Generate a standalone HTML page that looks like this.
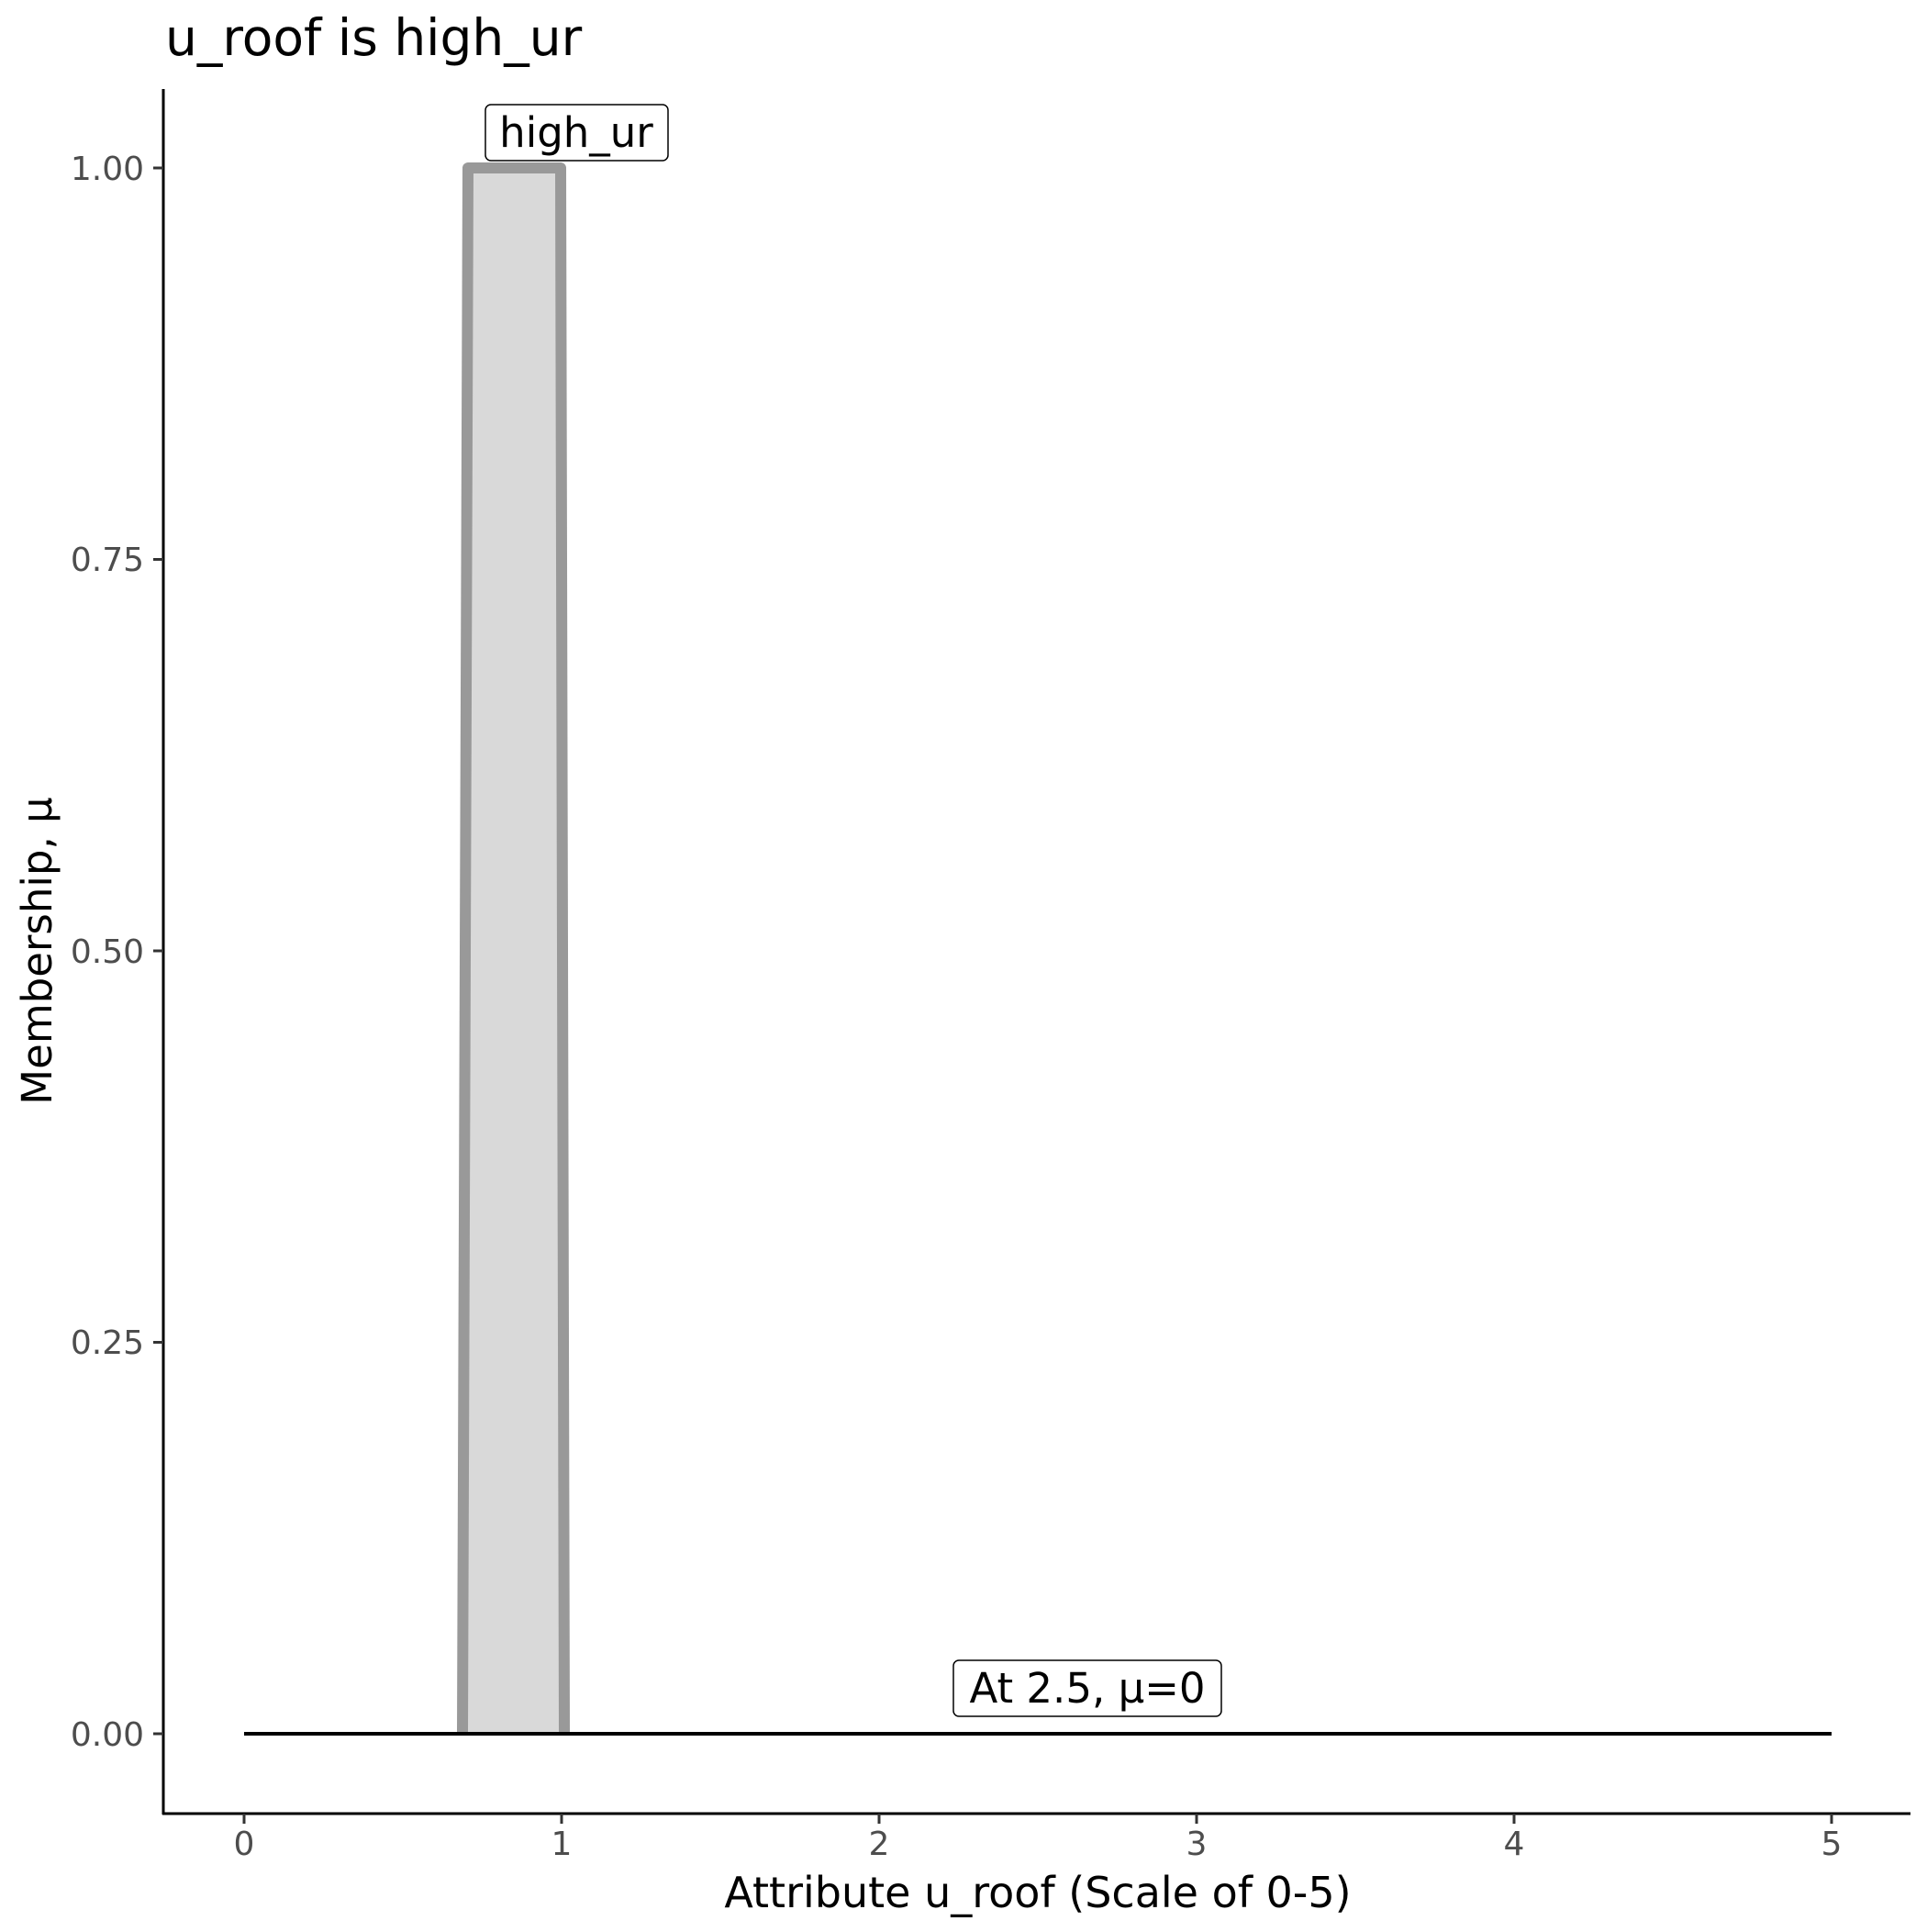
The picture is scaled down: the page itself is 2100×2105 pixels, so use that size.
<!DOCTYPE html>
<html><head><style>html,body{margin:0;padding:0;background:#fff}</style></head>
<body>
<svg width="2100" height="2100" viewBox="0 0 2100 2100" xmlns="http://www.w3.org/2000/svg" font-family="'DejaVu Sans','Liberation Sans',sans-serif">
<rect width="2100" height="2100" fill="#fff"/>
<text x="180" y="60" font-size="55" fill="#000">u_roof is high_ur</text>
<!-- trapezoid -->
<polygon points="504,1889 510,183 611,183 615,1889" fill="#d9d9d9"/>
<polyline points="504,1889 510,183 611,183 615,1889" fill="none" stroke="#999" stroke-width="12" stroke-linejoin="round"/>
<line x1="266" y1="1889" x2="1996" y2="1889" stroke="#000" stroke-width="4"/>
<!-- labels -->
<rect x="529" y="114" width="199" height="61" rx="6" fill="#fff" stroke="#000" stroke-width="1.5"/>
<text x="628" y="160" font-size="45" text-anchor="middle">high_ur</text>
<rect x="1039" y="1809" width="292" height="61" rx="6" fill="#fff" stroke="#000" stroke-width="1.5"/>
<text x="1185" y="1855" font-size="45" text-anchor="middle">At 2.5, μ=0</text>
<!-- axes -->
<line x1="178" y1="97" x2="178" y2="1977" stroke="#000" stroke-width="3"/>
<line x1="177" y1="1976" x2="2082" y2="1976" stroke="#000" stroke-width="3"/>
<g stroke="#333" stroke-width="3">
<line x1="167" y1="183" x2="178" y2="183"/>
<line x1="167" y1="609.5" x2="178" y2="609.5"/>
<line x1="167" y1="1036" x2="178" y2="1036"/>
<line x1="167" y1="1462.5" x2="178" y2="1462.5"/>
<line x1="167" y1="1889" x2="178" y2="1889"/>
<line x1="266" y1="1976" x2="266" y2="1987"/>
<line x1="612" y1="1976" x2="612" y2="1987"/>
<line x1="958" y1="1976" x2="958" y2="1987"/>
<line x1="1304" y1="1976" x2="1304" y2="1987"/>
<line x1="1650" y1="1976" x2="1650" y2="1987"/>
<line x1="1996" y1="1976" x2="1996" y2="1987"/>
</g>
<g font-size="36" fill="#4d4d4d" text-anchor="end">
<text x="157" y="196">1.00</text>
<text x="157" y="622">0.75</text>
<text x="157" y="1049">0.50</text>
<text x="157" y="1475">0.25</text>
<text x="157" y="1902">0.00</text>
</g>
<g font-size="36" fill="#4d4d4d" text-anchor="middle">
<text x="266" y="2021">0</text>
<text x="612" y="2021">1</text>
<text x="958" y="2021">2</text>
<text x="1304" y="2021">3</text>
<text x="1650" y="2021">4</text>
<text x="1996" y="2021">5</text>
</g>
<text x="1131" y="2078" font-size="46" text-anchor="middle">Attribute u_roof (Scale of 0-5)</text>
<text x="0" y="0" font-size="45" text-anchor="middle" transform="translate(56,1036) rotate(-90)">Membership, μ</text>
</svg>
</body></html>
